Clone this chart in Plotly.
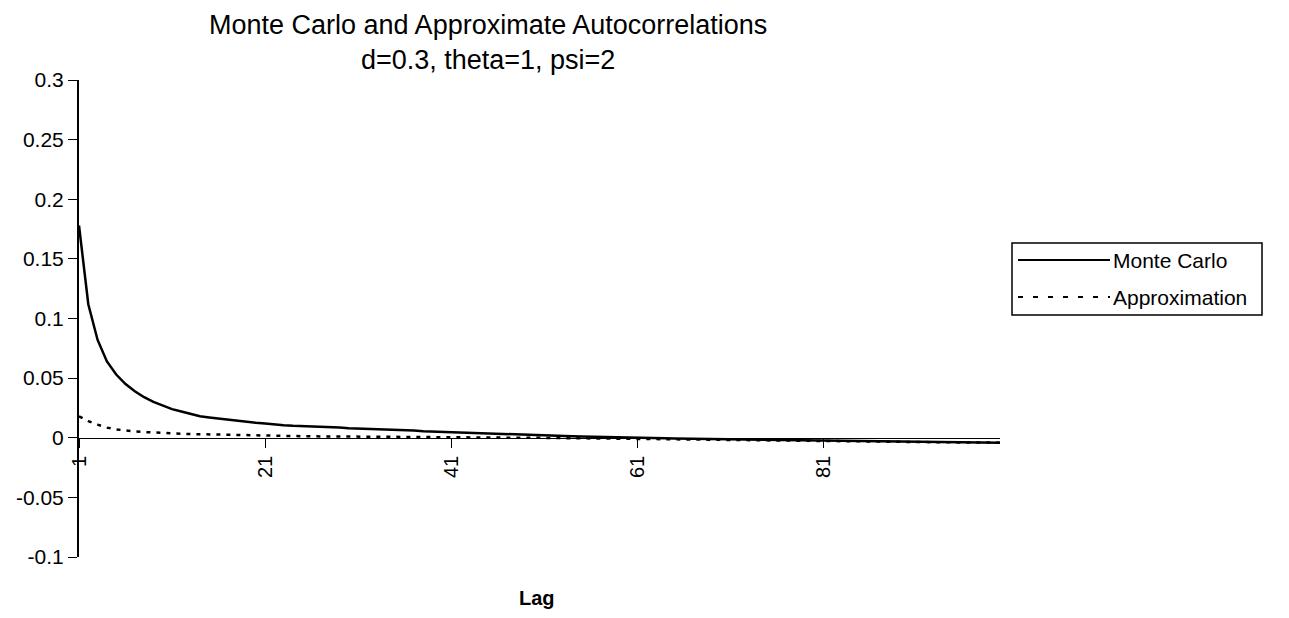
import plotly.graph_objects as go

lags = list(range(1, 101))

monte_carlo = [
    0.178, 0.112, 0.082, 0.064, 0.053, 0.045, 0.039, 0.034, 0.030, 0.027,
    0.024, 0.022, 0.020, 0.018, 0.017, 0.016, 0.015, 0.014, 0.013, 0.0125,
    0.012, 0.011, 0.0105, 0.010, 0.0098, 0.0095, 0.009, 0.0088, 0.0085, 0.008,
    0.0078, 0.0075, 0.0072, 0.007, 0.0066, 0.0062, 0.006, 0.0055, 0.0052, 0.005,
    0.0046, 0.0043, 0.004, 0.0036, 0.0033, 0.003, 0.0028, 0.0025, 0.0022, 0.002,
    0.0018, 0.0016, 0.0014, 0.0012, 0.001, 0.0009, 0.0008, 0.0006, 0.0004, 0.0002,
    0.0, -0.0002, -0.0004, -0.0005, -0.0007, -0.0008, -0.001, -0.0012, -0.0014, -0.0015,
    -0.0017, -0.0018, -0.002, -0.002, -0.0022, -0.0023, -0.0024, -0.0025, -0.0026, -0.0027,
    -0.0028, -0.0029, -0.003, -0.003, -0.0031, -0.0032, -0.0033, -0.0033, -0.0034, -0.0035,
    -0.0035, -0.0036, -0.0037, -0.0037, -0.0038, -0.0038, -0.0039, -0.004, -0.004, -0.0041,
]

approximation = [
    0.018, 0.014, 0.011, 0.0085, 0.007, 0.006, 0.0053, 0.0048, 0.0043, 0.004,
    0.0037, 0.0034, 0.0031, 0.0029, 0.0027, 0.0025, 0.0023, 0.0021, 0.002, 0.0018,
    0.0017, 0.0016, 0.0015, 0.0014, 0.0013, 0.0012, 0.0012, 0.0011, 0.001, 0.001,
    0.0009, 0.0009, 0.0008, 0.0008, 0.0007, 0.0007, 0.0006, 0.0006, 0.0005, 0.0005,
    0.0004, 0.0004, 0.0003, 0.0003, 0.0002, 0.0002, 0.0001, 0.0001, 0.0, 0.0,
    -0.0001, -0.0002, -0.0003, -0.0004, -0.0005, -0.0006, -0.0007, -0.0008, -0.0009, -0.001,
    -0.0011, -0.0012, -0.0013, -0.0014, -0.0015, -0.0016, -0.0017, -0.0018, -0.0019, -0.002,
    -0.0021, -0.0022, -0.0023, -0.0024, -0.0025, -0.0026, -0.0027, -0.0028, -0.0029, -0.003,
    -0.0031, -0.0031, -0.0032, -0.0033, -0.0033, -0.0034, -0.0035, -0.0035, -0.0036, -0.0036,
    -0.0037, -0.0037, -0.0038, -0.0038, -0.0039, -0.0039, -0.004, -0.004, -0.0041, -0.0041,
]

series_names = ["Monte Carlo", "Approximation"]
x_tick_vals = [1, 21, 41, 61, 81]
y_tick_vals = [-0.1, -0.05, 0, 0.05, 0.1, 0.15, 0.2, 0.25, 0.3]
y_tick_text = ["-0.1", "-0.05", "0", "0.05", "0.1", "0.15", "0.2", "0.25", "0.3"]

FONT = "Liberation Sans, Arial, sans-serif"

# page body has an 8px margin; target positions below are in screenshot pixels
OFF = 8
W, H = 1289 - 2 * OFF, 618 - 2 * OFF
PL, PR, PT, PB = 79, 1000, 80, 557  # plot area in screenshot pixels


def px_x(x):
    return (x - PL) / (PR - PL)


def px_y(y):
    return (PB - y) / (PB - PT)


dashes = ["solid", "4px,6px"]
legend_dashes = ["solid", "5px,10px"]

fig = go.Figure()
for name, vals, dash in zip(series_names, [monte_carlo, approximation], dashes):
    fig.add_trace(go.Scatter(
        x=lags, y=vals, mode="lines", name=name, showlegend=False,
        line=dict(color="black", width=2.5, dash=dash),
    ))

# legend drawn as box + sample lines + labels (long Excel-style samples)
LG_L, LG_R, LG_T, LG_B = 1012, 1262, 243, 315
legend_rows = [260, 297]
shapes = [dict(
    type="rect", xref="paper", yref="paper",
    x0=px_x(LG_L), x1=px_x(LG_R), y0=px_y(LG_B), y1=px_y(LG_T),
    line=dict(color="black", width=1.5), fillcolor="white", layer="above",
)]
annotations = []
for name, dash, row in zip(series_names, legend_dashes, legend_rows):
    shapes.append(dict(
        type="line", xref="paper", yref="paper",
        x0=px_x(1018), x1=px_x(1110), y0=px_y(row), y1=px_y(row),
        line=dict(color="black", width=2, dash=dash), layer="above",
    ))
    annotations.append(dict(
        text=name, x=px_x(1111), xref="paper", xanchor="left",
        y=px_y(row), yref="paper", yanchor="middle", showarrow=False,
        font=dict(family=FONT, size=21, color="black"),
    ))

annotations += [
    dict(
        text="Monte Carlo and Approximate Autocorrelations<br>d=0.3, theta=1, psi=2",
        x=px_x(488), xref="paper", xanchor="center",
        y=px_y(8), yref="paper", yanchor="top", showarrow=False,
        font=dict(family=FONT, size=27, color="black"),
    ),
    dict(
        text="<b>Lag</b>", x=px_x(537), xref="paper", xanchor="center",
        y=px_y(598), yref="paper", yanchor="middle", showarrow=False,
        font=dict(family=FONT, size=20, color="black"),
    ),
]

fig.update_layout(
    width=W, height=H,
    paper_bgcolor="white", plot_bgcolor="white",
    margin=dict(l=PL - OFF, r=OFF + W - PR, t=PT - OFF, b=OFF + H - PB),
    font=dict(family=FONT, size=20, color="black"),
    showlegend=False,
    xaxis=dict(
        range=[1, 100], anchor="free", position=0.25, automargin=False,
        tickmode="array", tickvals=x_tick_vals,
        ticktext=[str(v) for v in x_tick_vals],
        tickangle=-90, ticks="outside", ticklen=9, tickcolor="black",
        showline=True, linecolor="black", linewidth=1,
        showgrid=False, zeroline=False,
        tickfont=dict(family=FONT, size=20, color="black"),
    ),
    yaxis=dict(
        range=[-0.1, 0.3], tickmode="array", tickvals=y_tick_vals, ticktext=y_tick_text,
        automargin=False,
        ticks="outside", ticklen=9, tickcolor="black", tickwidth=1,
        showline=True, linecolor="black", linewidth=2,
        showgrid=False, zeroline=False,
        tickfont=dict(family=FONT, size=21, color="black"),
    ),
    shapes=shapes,
    annotations=annotations,
)

fig.write_html("out.html")
